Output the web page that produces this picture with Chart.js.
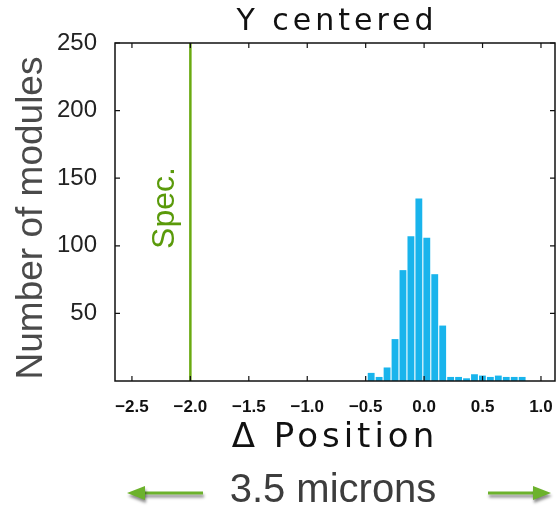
<!DOCTYPE html>
<html>
<head>
<meta charset="utf-8">
<title>Y centered</title>
<script src="https://cdn.jsdelivr.net/npm/chart.js@4.4.0/dist/chart.umd.min.js"></script>
<style>
  html, body { margin: 0; padding: 0; background: #fff; }
</style>
</head>
<body>
<canvas id="myChart" width="557" height="511"></canvas>
<script>
// Histogram bins (centre of each bin, microns) and number of modules in each
var binCenters = [-0.453, -0.385, -0.317, -0.249, -0.181, -0.113, -0.045, 0.023, 0.091, 0.159,
                  0.227, 0.295, 0.363, 0.431, 0.499, 0.567, 0.635, 0.703, 0.771, 0.839];
var moduleCounts = [6, 3, 10, 31, 82, 107, 135, 106, 79, 41,
                    3, 3, 2, 5, 4, 3, 4, 3, 3, 3];

// Axis ticks and ranges
var xTicks = [-2.5, -2.0, -1.5, -1.0, -0.5, 0.0, 0.5, 1.0];
var yTicks = [50, 100, 150, 200, 250];
var xRange = [-2.645, 1.12];
var yRange = [0, 250];

// Spec limit line
var specPosition = -2.0;

var chartTitle = 'Y centered';
var xTitle = '\u0394 Position';
var yTitle = 'Number of modules';
var specLabel = 'Spec.';
var spanLabel = '3.5 microns';

// Draws the frame, inward tick marks and the text / arrows around the plot
var decorations = {
    id: 'decorations',
    afterDraw: function(chart) {
        var ctx = chart.ctx;
        var area = chart.chartArea;
        var xs = chart.scales.x;
        var ys = chart.scales.y;

        ctx.save();
        // frame
        ctx.strokeStyle = '#111';
        ctx.lineWidth = 1.5;
        ctx.strokeRect(area.left, area.top, area.right - area.left, area.bottom - area.top);

        // small inward ticks
        ctx.lineWidth = 1.2;
        ctx.beginPath();
        xTicks.forEach(function(v) {
            var px = xs.getPixelForValue(v);
            ctx.moveTo(px, area.bottom); ctx.lineTo(px, area.bottom - 5);
            ctx.moveTo(px, area.top); ctx.lineTo(px, area.top + 5);
        });
        yTicks.forEach(function(v) {
            var py = ys.getPixelForValue(v);
            ctx.moveTo(area.left, py); ctx.lineTo(area.left + 5, py);
            ctx.moveTo(area.right, py); ctx.lineTo(area.right - 5, py);
        });
        ctx.stroke();

        // title
        ctx.fillStyle = '#111';
        ctx.textAlign = 'center';
        ctx.textBaseline = 'middle';
        ctx.letterSpacing = '4px';
        ctx.font = '30px "DejaVu Sans"';
        ctx.fillText(chartTitle, (area.left + area.right) / 2 + 2, 22);

        // x axis title
        ctx.font = '34px "DejaVu Sans"';
        ctx.fillText(xTitle, (area.left + area.right) / 2, 438);
        ctx.letterSpacing = '0px';

        // y axis title
        ctx.save();
        ctx.translate(32, 218);
        ctx.rotate(-Math.PI / 2);
        ctx.fillStyle = '#4a4a4a';
        ctx.font = '37px "Liberation Sans"';
        ctx.fillText(yTitle, 0, 0);
        ctx.restore();

        // spec label next to the spec line
        ctx.save();
        ctx.translate(xs.getPixelForValue(specPosition) - 25, 208);
        ctx.rotate(-Math.PI / 2);
        ctx.fillStyle = '#5a9a0a';
        ctx.font = '32px "Liberation Sans"';
        ctx.fillText(specLabel, 0, 0);
        ctx.restore();

        // bottom span label
        ctx.fillStyle = '#3d3d3d';
        ctx.font = '40px "Liberation Sans"';
        ctx.fillText(spanLabel, 333, 491);

        // arrows
        ctx.shadowColor = 'rgba(0,0,0,0.45)';
        ctx.shadowBlur = 3;
        ctx.shadowOffsetX = 1;
        ctx.shadowOffsetY = 3;
        ctx.fillStyle = '#6cb22c';
        ctx.strokeStyle = '#6cb22c';
        ctx.lineWidth = 3;
        ctx.beginPath();
        ctx.moveTo(140, 493); ctx.lineTo(203, 493);
        ctx.moveTo(488, 493); ctx.lineTo(538, 493);
        ctx.stroke();
        ctx.beginPath();
        ctx.moveTo(127, 493); ctx.lineTo(145, 486); ctx.lineTo(145, 500); ctx.closePath();
        ctx.moveTo(551, 493); ctx.lineTo(533, 486); ctx.lineTo(533, 500); ctx.closePath();
        ctx.fill();
        ctx.restore();
    }
};

function drawChart() {
    var ctx = document.getElementById('myChart').getContext('2d');

    var barData = binCenters.map(function(x, i) {
        return { x: x, y: moduleCounts[i] };
    });

    var chartData = {
        datasets: [{
            type: 'bar',
            label: 'Modules',
            data: barData,
            backgroundColor: '#19b4ec',
            borderWidth: 0,
            barPercentage: 0.86,
            categoryPercentage: 1.0
        }, {
            type: 'line',
            label: 'Spec',
            data: [{ x: specPosition, y: yRange[0] }, { x: specPosition, y: yRange[1] }],
            borderColor: '#6aaa10',
            borderWidth: 2.5,
            pointRadius: 0
        }]
    };

    var options = {
        responsive: false,
        animation: false,
        layout: { padding: { top: 43, right: 2, left: 0, bottom: 0 } },
        plugins: {
            legend: { display: false },
            tooltip: { enabled: false }
        },
        scales: {
            x: {
                type: 'linear',
                min: xRange[0],
                max: xRange[1],
                offset: false,
                grid: { display: false },
                border: { display: false },
                afterBuildTicks: function(scale) {
                    scale.ticks = xTicks.map(function(v) { return { value: v }; });
                },
                afterFit: function(scale) {
                    scale.height = 130;
                    scale.paddingRight = 0;
                    scale.paddingLeft = 0;
                },
                ticks: {
                    autoSkip: false,
                    maxRotation: 0,
                    padding: 8,
                    color: '#111',
                    font: { family: 'Liberation Sans', size: 17, weight: 'bold' },
                    callback: function(v) { return v.toFixed(1).replace('-', '\u2212'); }
                }
            },
            y: {
                min: yRange[0],
                max: yRange[1],
                grid: { display: false },
                border: { display: false },
                afterBuildTicks: function(scale) {
                    scale.ticks = yTicks.map(function(v) { return { value: v }; });
                },
                afterFit: function(scale) { scale.width = 115; },
                ticks: {
                    padding: 10,
                    color: '#222',
                    font: { family: 'Liberation Sans', size: 24 }
                }
            }
        }
    };

    new Chart(ctx, {
        type: 'bar',
        data: chartData,
        options: options,
        plugins: [decorations]
    });
}

document.addEventListener('DOMContentLoaded', drawChart);
</script>
</body>
</html>
